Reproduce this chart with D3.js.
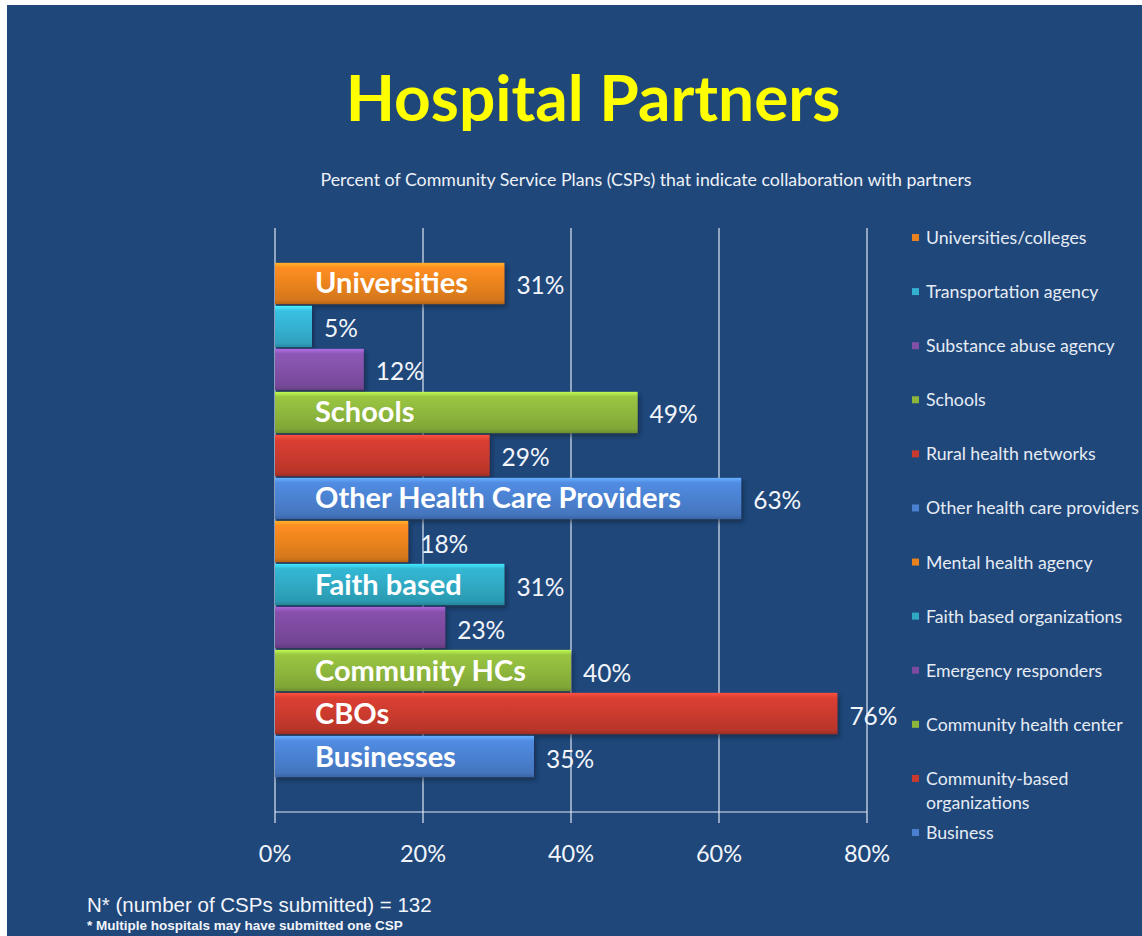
<!DOCTYPE html>
<html>
<head>
<meta charset="utf-8">
<script src="https://cdn.jsdelivr.net/npm/d3@7"></script>
<style>
  body { margin: 0; background: #ffffff; }
  svg { display: block; }
</style>
</head>
<body>
<div id="viz"></div>
<script>
// chart data, top bar first
var partners = ['Universities/colleges', 'Transportation agency', 'Substance abuse agency', 'Schools',
    'Rural health networks', 'Other health care providers', 'Mental health agency', 'Faith based organizations',
    'Emergency responders', 'Community health center', 'Community-based organizations', 'Business'];
var percents = [31, 5, 12, 49, 29, 63, 18, 31, 23, 40, 76, 35];
var barLabels = ['Universities', '', '', 'Schools', '', 'Other Health Care Providers', '', 'Faith based',
    '', 'Community HCs', 'CBOs', 'Businesses'];
var barColors = ['#e8821e', '#34b0d0', '#8150a6', '#8cb53c', '#c93a2e', '#4a80cf',
    '#e8821e', '#2fa8c2', '#7c4a9e', '#8cb53c', '#c93a2e', '#4a80cf'];
var xTicks = [0, 20, 40, 60, 80];

var width_svg = 1142, height_svg = 936;
var margin = {left: 275, right: 275, top: 228, bottom: 124};

var svg = d3.select('#viz')
    .append('svg')
    .attr('width', width_svg)
    .attr('height', height_svg);

// slide background with the white border left/top
svg.append('rect')
    .attr('x', 7).attr('y', 5)
    .attr('width', width_svg - 7).attr('height', height_svg - 5)
    .attr('fill', '#1f477a');

var defs = svg.append('defs');
barColors.forEach(function(c, i) {
    var base = d3.color(c);
    var g = defs.append('linearGradient')
        .attr('id', 'bar' + i)
        .attr('x1', '0%').attr('x2', '0%')
        .attr('y1', '0%').attr('y2', '100%');
    g.append('stop').attr('offset', '0%').attr('stop-color', base.brighter(0.9));
    g.append('stop').attr('offset', '12%').attr('stop-color', base.brighter(0.25));
    g.append('stop').attr('offset', '55%').attr('stop-color', base);
    g.append('stop').attr('offset', '90%').attr('stop-color', base.darker(0.25));
    g.append('stop').attr('offset', '100%').attr('stop-color', base.darker(0.7));
});
var shadow = defs.append('filter').attr('id', 'shadow')
    .attr('x', '-5%').attr('y', '-20%').attr('width', '115%').attr('height', '160%');
shadow.append('feDropShadow')
    .attr('dx', 2).attr('dy', 3).attr('stdDeviation', 2)
    .attr('flood-color', '#0a1a33').attr('flood-opacity', 0.6);

var x = d3.scaleLinear()
    .domain([0, 80])
    .range([margin.left, 867]);

var y = d3.scaleBand()
    .domain(partners)
    .range([margin.top, 812])
    .paddingInner(0.04)
    .paddingOuter(0.81);

// title
svg.append('text')
    .attr('x', 593).attr('y', 121)
    .attr('text-anchor', 'middle')
    .style('font-family', 'Lato, sans-serif')
    .style('font-weight', 'bold')
    .style('font-size', '64px')
    .attr('fill', '#ffff00')
    .text('Hospital Partners');

svg.append('text')
    .attr('x', 646).attr('y', 186)
    .attr('text-anchor', 'middle')
    .style('font-family', 'Lato, sans-serif')
    .style('font-size', '17.8px')
    .attr('fill', '#eef2f8')
    .text('Percent of Community Service Plans (CSPs) that indicate collaboration with partners');

// gridlines and frame
var grid = svg.append('g').attr('stroke', '#dfe7f2').attr('stroke-width', 1.2);
grid.selectAll('line.v')
    .data(xTicks)
    .join('line')
    .attr('class', 'v')
    .attr('x1', d => x(d)).attr('x2', d => x(d))
    .attr('y1', margin.top).attr('y2', 823);
grid.append('line')
    .attr('x1', x(0)).attr('x2', x(80))
    .attr('y1', 812).attr('y2', 812);

// bars
var bars = svg.append('g');
bars.selectAll('rect')
    .data(partners)
    .join('rect')
    .attr('x', x(0))
    .attr('y', d => y(d))
    .attr('width', (d, i) => x(percents[i]) - x(0))
    .attr('height', y.bandwidth())
    .attr('fill', (d, i) => 'url(#bar' + i + ')')
    .attr('filter', 'url(#shadow)');

// category names written inside bars
bars.selectAll('text.inner')
    .data(partners)
    .join('text')
    .attr('class', 'inner')
    .attr('x', 315)
    .attr('y', d => y(d) + y.bandwidth() / 2 + 10)
    .style('font-family', 'Lato, sans-serif')
    .style('font-weight', 'bold')
    .style('font-size', '29px')
    .attr('fill', '#ffffff')
    .text((d, i) => barLabels[i]);

// value labels
bars.selectAll('text.val')
    .data(partners)
    .join('text')
    .attr('class', 'val')
    .attr('x', (d, i) => x(percents[i]) + 12)
    .attr('y', d => y(d) + y.bandwidth() / 2 + 11)
    .style('font-family', 'Lato, sans-serif')
    .style('font-size', '24.5px')
    .attr('fill', '#f2f5fa')
    .text((d, i) => percents[i] + '%');

// x axis labels
svg.append('g')
    .selectAll('text')
    .data(xTicks)
    .join('text')
    .attr('x', d => x(d))
    .attr('y', 862)
    .attr('text-anchor', 'middle')
    .style('font-family', 'Lato, sans-serif')
    .style('font-size', '23.5px')
    .attr('fill', '#f2f5fa')
    .text(d => d + '%');

// legend
var legendY = d3.scalePoint()
    .domain(partners)
    .range([238, 833]);
var legend = svg.append('g');
var item = legend.selectAll('g')
    .data(partners)
    .join('g')
    .attr('transform', d => 'translate(912,' + legendY(d) + ')');
item.append('rect')
    .attr('x', 0).attr('y', -4)
    .attr('width', 7).attr('height', 7)
    .attr('fill', (d, i) => barColors[i]);
item.append('text')
    .attr('x', 14)
    .attr('y', 6)
    .style('font-family', 'Lato, sans-serif')
    .style('font-size', '17.7px')
    .attr('fill', '#e6ecf5')
    .each(function(d) {
        var t = d3.select(this);
        if (d === 'Community-based organizations') {
            t.append('tspan').attr('x', 14).attr('dy', 0).text('Community-based');
            t.append('tspan').attr('x', 14).attr('dy', 24).text('organizations');
        } else {
            t.text(d);
        }
    });

// footnote
svg.append('text')
    .attr('x', 87).attr('y', 912)
    .style('font-family', '"Liberation Sans", Arial, sans-serif')
    .style('font-size', '20.5px')
    .attr('fill', '#f2f5fa')
    .text('N* (number of CSPs submitted) = 132');
svg.append('text')
    .attr('x', 87).attr('y', 930)
    .style('font-family', '"Liberation Sans", Arial, sans-serif')
    .style('font-weight', 'bold')
    .style('font-size', '13.5px')
    .attr('fill', '#f2f5fa')
    .text('* Multiple hospitals may have submitted one CSP');
</script>
</body>
</html>
